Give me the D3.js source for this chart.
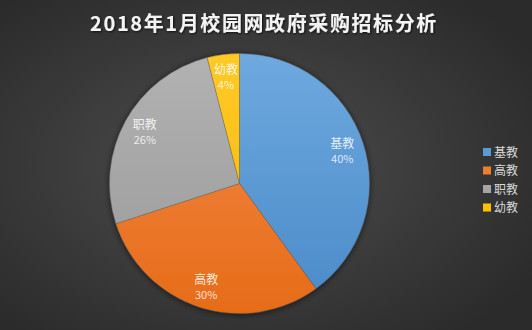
<!DOCTYPE html>
<html>
<head>
<meta charset="utf-8">
<script src="https://cdn.jsdelivr.net/npm/d3@7"></script>
<style>
  html, body { margin: 0; padding: 0; background: #3a3a3a; }
  svg { display: block; }
</style>
</head>
<body>
<svg id="chart" width="532" height="330"></svg>
<script>
// Procurement share by school type (percent)
const categories = ["基教", "高教", "职教", "幼教"];
const shares = [40, 30, 26, 4];
const colors = ["#5b9bd5", "#ed7d31", "#a5a5a5", "#ffc000"];
const lightColors = ["#6ea9df", "#f48a4a", "#b2b2b2", "#ffc928"];
const darkColors = ["#4a8ac8", "#e66c18", "#999999", "#f5b800"];
const title = "2018年1月校园网政府采购招标分析";

const W = 532, H = 330;
const svg = d3.select("#chart");
const defs = svg.append("defs");

// background radial gradient
const bg = defs.append("radialGradient").attr("id", "bg")
  .attr("cx", "45%").attr("cy", "50%").attr("r", "65%");
bg.append("stop").attr("offset", "0%").attr("stop-color", "#4e4e4e");
bg.append("stop").attr("offset", "100%").attr("stop-color", "#2b2b2b");
svg.append("rect").attr("width", W).attr("height", H).attr("fill", "url(#bg)");

// pie drop shadow
const sh = defs.append("filter").attr("id", "pieShadow")
  .attr("x", "-20%").attr("y", "-20%").attr("width", "140%").attr("height", "140%");
sh.append("feGaussianBlur").attr("in", "SourceAlpha").attr("stdDeviation", 3).attr("result", "b");
sh.append("feOffset").attr("in", "b").attr("dx", 0).attr("dy", 1).attr("result", "o");
sh.append("feComponentTransfer").attr("in", "o").attr("result", "s")
  .append("feFuncA").attr("type", "linear").attr("slope", 0.6);
const m = sh.append("feMerge");
m.append("feMergeNode").attr("in", "s");
m.append("feMergeNode").attr("in", "SourceGraphic");

// title shadow
const ts = defs.append("filter").attr("id", "titleShadow")
  .attr("x", "-10%").attr("y", "-30%").attr("width", "120%").attr("height", "160%");
ts.append("feDropShadow").attr("dx", 1).attr("dy", 1).attr("stdDeviation", 1)
  .attr("flood-color", "#000").attr("flood-opacity", 0.7);

// vertical gradients per slice (lighter on top)
const cx = 239.5, cy = 183.5, r = 130;
categories.forEach((c, i) => {
  const g = defs.append("linearGradient").attr("id", "grad" + i)
    .attr("gradientUnits", "userSpaceOnUse")
    .attr("x1", 0).attr("y1", cy - r).attr("x2", 0).attr("y2", cy + r);
  g.append("stop").attr("offset", "0%").attr("stop-color", lightColors[i]);
  g.append("stop").attr("offset", "100%").attr("stop-color", darkColors[i]);
});

svg.append("text")
  .attr("x", 264).attr("y", 31)
  .attr("text-anchor", "middle")
  .attr("font-family", "'Noto Sans CJK SC', 'Noto Sans', sans-serif")
  .attr("font-weight", "bold")
  .attr("font-size", 20)
  .attr("letter-spacing", 1.6)
  .attr("fill", "#f4f4f4")
  .attr("filter", "url(#titleShadow)")
  .text(title);

const pie = d3.pie().sort(null).value(d => d)(shares);
const arc = d3.arc().innerRadius(0).outerRadius(r);
const labelArc = d3.arc().innerRadius(108).outerRadius(108);

const pg = svg.append("g").attr("transform", `translate(${cx},${cy})`);
const slices = pg.append("g").attr("filter", "url(#pieShadow)");
slices.selectAll("path").data(pie).join("path")
  .attr("d", arc)
  .attr("transform", `translate(0,0)`)
  .attr("fill", (d, i) => "url(#grad" + i + ")")
  .attr("stroke", "rgba(90,90,90,0.55)")
  .attr("stroke-width", 0.6);

// gradients are in user space of the group; shift them to group coordinates
defs.selectAll("linearGradient")
  .attr("y1", -r).attr("y2", r);

const labels = pg.selectAll("g.lbl").data(pie).join("g").attr("class", "lbl")
  .attr("transform", d => { const [x, y] = labelArc.centroid(d); return `translate(${x},${y})`; });
labels.append("text")
  .attr("text-anchor", "middle").attr("y", -2)
  .attr("font-family", "'Noto Sans CJK SC', sans-serif")
  .attr("font-size", 12)
  .attr("fill", "rgba(255,255,255,0.85)")
  .text((d, i) => categories[i]);
labels.append("text")
  .attr("text-anchor", "middle").attr("y", 13)
  .attr("font-family", "'Noto Sans CJK SC', sans-serif")
  .attr("font-size", 11)
  .attr("fill", "rgba(255,255,255,0.8)")
  .text(d => d.data + "%");

// legend
const lg = svg.append("g").attr("transform", "translate(483,152)");
const rows = lg.selectAll("g").data(categories).join("g")
  .attr("transform", (d, i) => `translate(0,${i * 18.5})`);
rows.append("rect").attr("x", 0).attr("y", -4).attr("width", 8).attr("height", 8)
  .attr("fill", (d, i) => colors[i]);
rows.append("text").attr("x", 11).attr("y", 4.5)
  .attr("font-family", "'Noto Sans CJK SC', sans-serif")
  .attr("font-size", 12)
  .attr("fill", "#d9d9d9")
  .text(d => d);
</script>
</body>
</html>
